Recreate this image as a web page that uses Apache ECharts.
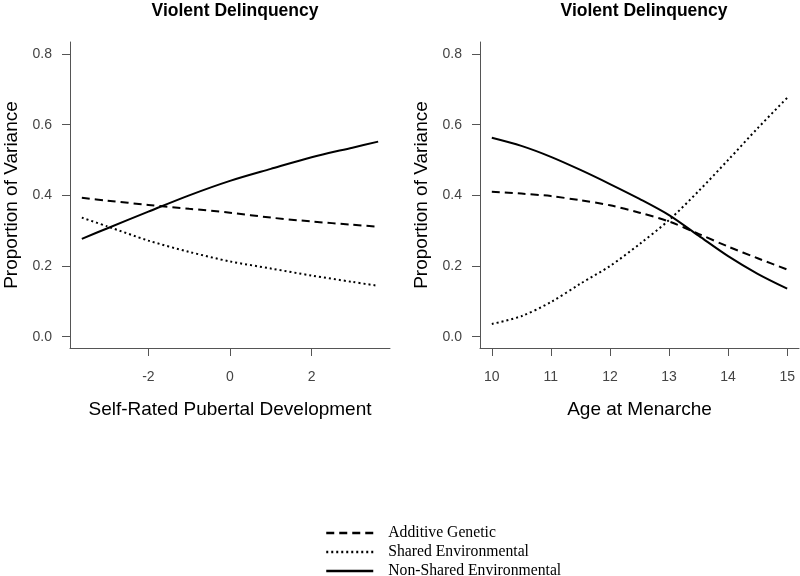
<!DOCTYPE html>
<html>
<head>
<meta charset="utf-8">
<script src="https://cdn.jsdelivr.net/npm/echarts@6/dist/echarts.min.js"></script>
<style>html,body{margin:0;padding:0;background:#fff}#c{width:800px;height:576px}</style>
</head>
<body>
<div id="c"></div>
<script>
// Left panel: Self-Rated Pubertal Development
var pubertalX = [-3.63, -3, -2, -1, 0, 1, 2, 3, 3.63];
var pubAdditive = [0.393, 0.385, 0.373, 0.362, 0.351, 0.337, 0.326, 0.317, 0.311];
var pubShared = [0.337, 0.312, 0.272, 0.240, 0.213, 0.193, 0.173, 0.155, 0.144];
var pubNonShared = [0.277, 0.307, 0.354, 0.400, 0.441, 0.475, 0.508, 0.535, 0.552];

// Right panel: Age at Menarche
var menarcheX = [10, 10.5, 11, 11.5, 12, 12.5, 13, 13.5, 14, 14.5, 15];
var menAdditive = [0.410, 0.405, 0.398, 0.386, 0.372, 0.351, 0.326, 0.291, 0.255, 0.222, 0.190];
var menShared = [0.036, 0.058, 0.098, 0.150, 0.200, 0.262, 0.330, 0.412, 0.500, 0.590, 0.676];
var menNonShared = [0.563, 0.540, 0.509, 0.472, 0.432, 0.390, 0.344, 0.286, 0.228, 0.178, 0.136];

var yTicks = [0, 0.2, 0.4, 0.6, 0.8];
var pubTicks = [-2, 0, 2];
var menTicks = [10, 11, 12, 13, 14, 15];

var seriesNames = ['Additive Genetic', 'Shared Environmental', 'Non-Shared Environmental'];
var panelTitle = 'Violent Delinquency';
var yName = 'Proportion of Variance';
var xNames = ['Self-Rated Pubertal Development', 'Age at Menarche'];

function pairs(xs, ys) { return xs.map(function (x, i) { return [x, ys[i]]; }); }

var axisCol = '#555';
var labelCol = '#444';
var sans = 'Liberation Sans, Arial, sans-serif';

function xAxisDef(idx, min, max, ticks, name) {
  return {
    type: 'value', gridIndex: idx, min: min, max: max,
    name: name, nameLocation: 'middle', nameGap: 52,
    nameTextStyle: { fontFamily: sans, fontSize: 19, color: '#000' },
    splitLine: { show: false },
    axisLine: { show: true, onZero: false, lineStyle: { color: axisCol, width: 1 } },
    axisTick: { show: true, inside: false, length: 8, customValues: ticks, lineStyle: { color: axisCol } },
    axisLabel: { customValues: ticks, margin: 22, fontFamily: sans, fontSize: 14, color: labelCol }
  };
}
function yAxisDef(idx) {
  return {
    type: 'value', gridIndex: idx, min: -0.032, max: 0.834,
    name: yName, nameLocation: 'middle', nameGap: 49,
    nameTextStyle: { fontFamily: sans, fontSize: 19, color: '#000' },
    splitLine: { show: false },
    axisLine: { show: true, onZero: false, lineStyle: { color: axisCol, width: 1 } },
    axisTick: { show: true, inside: false, length: 8, customValues: yTicks, lineStyle: { color: axisCol } },
    axisLabel: { customValues: yTicks, margin: 18, fontFamily: sans, fontSize: 14, color: labelCol,
      formatter: function (v) { return v.toFixed(1); } }
  };
}

var styles = [
  { type: [8, 5], width: 2 },
  { type: [2, 3], width: 2 },
  { type: 'solid', width: 2 }
];
var pubData = [pubAdditive, pubShared, pubNonShared];
var menData = [menAdditive, menShared, menNonShared];

var series = [];
[0, 1].forEach(function (g) {
  var xs = g === 0 ? pubertalX : menarcheX;
  var ds = g === 0 ? pubData : menData;
  for (var k = 0; k < 3; k++) {
    series.push({
      type: 'line', name: seriesNames[k], xAxisIndex: g, yAxisIndex: g,
      data: pairs(xs, ds[k]), smooth: 0.3, symbol: 'none', showSymbol: false,
      lineStyle: { color: '#000', width: styles[k].width, type: styles[k].type },
      itemStyle: { color: '#000' },
      silent: true, animation: false
    });
  }
});

var chart = echarts.init(document.getElementById('c'), null, { renderer: 'canvas' });
chart.setOption({
  backgroundColor: '#fff',
  animation: false,
  title: [
    { text: panelTitle, left: 230, top: -3, textAlign: 'center',
      textStyle: { fontFamily: sans, fontSize: 17.5, fontWeight: 'bold', color: '#000' } },
    { text: panelTitle, left: 639, top: -3, textAlign: 'center',
      textStyle: { fontFamily: sans, fontSize: 17.5, fontWeight: 'bold', color: '#000' } }
  ],
  grid: [
    { left: 70, top: 42, width: 320, height: 306, outerBoundsMode: 'none', containLabel: false },
    { left: 480, top: 42, width: 319, height: 306, outerBoundsMode: 'none', containLabel: false }
  ],
  xAxis: [
    xAxisDef(0, -3.92, 3.92, pubTicks, xNames[0]),
    xAxisDef(1, 9.8, 15.2, menTicks, xNames[1])
  ],
  yAxis: [yAxisDef(0), yAxisDef(1)],
  legend: {
    data: seriesNames, orient: 'vertical', left: 325, top: 525, height: 60,
    itemWidth: 47, itemHeight: 14, itemGap: 3, padding: 0,
    itemStyle: { color: 'transparent', borderColor: 'transparent', borderWidth: 0 },
    lineStyle: { width: 2.5 },
    textStyle: { fontFamily: 'Liberation Serif, Times New Roman, serif', fontSize: 15.7, color: '#000', padding: [0, 0, 0, 10] },
    selectedMode: false
  },
  series: series
});
</script>
</body>
</html>
